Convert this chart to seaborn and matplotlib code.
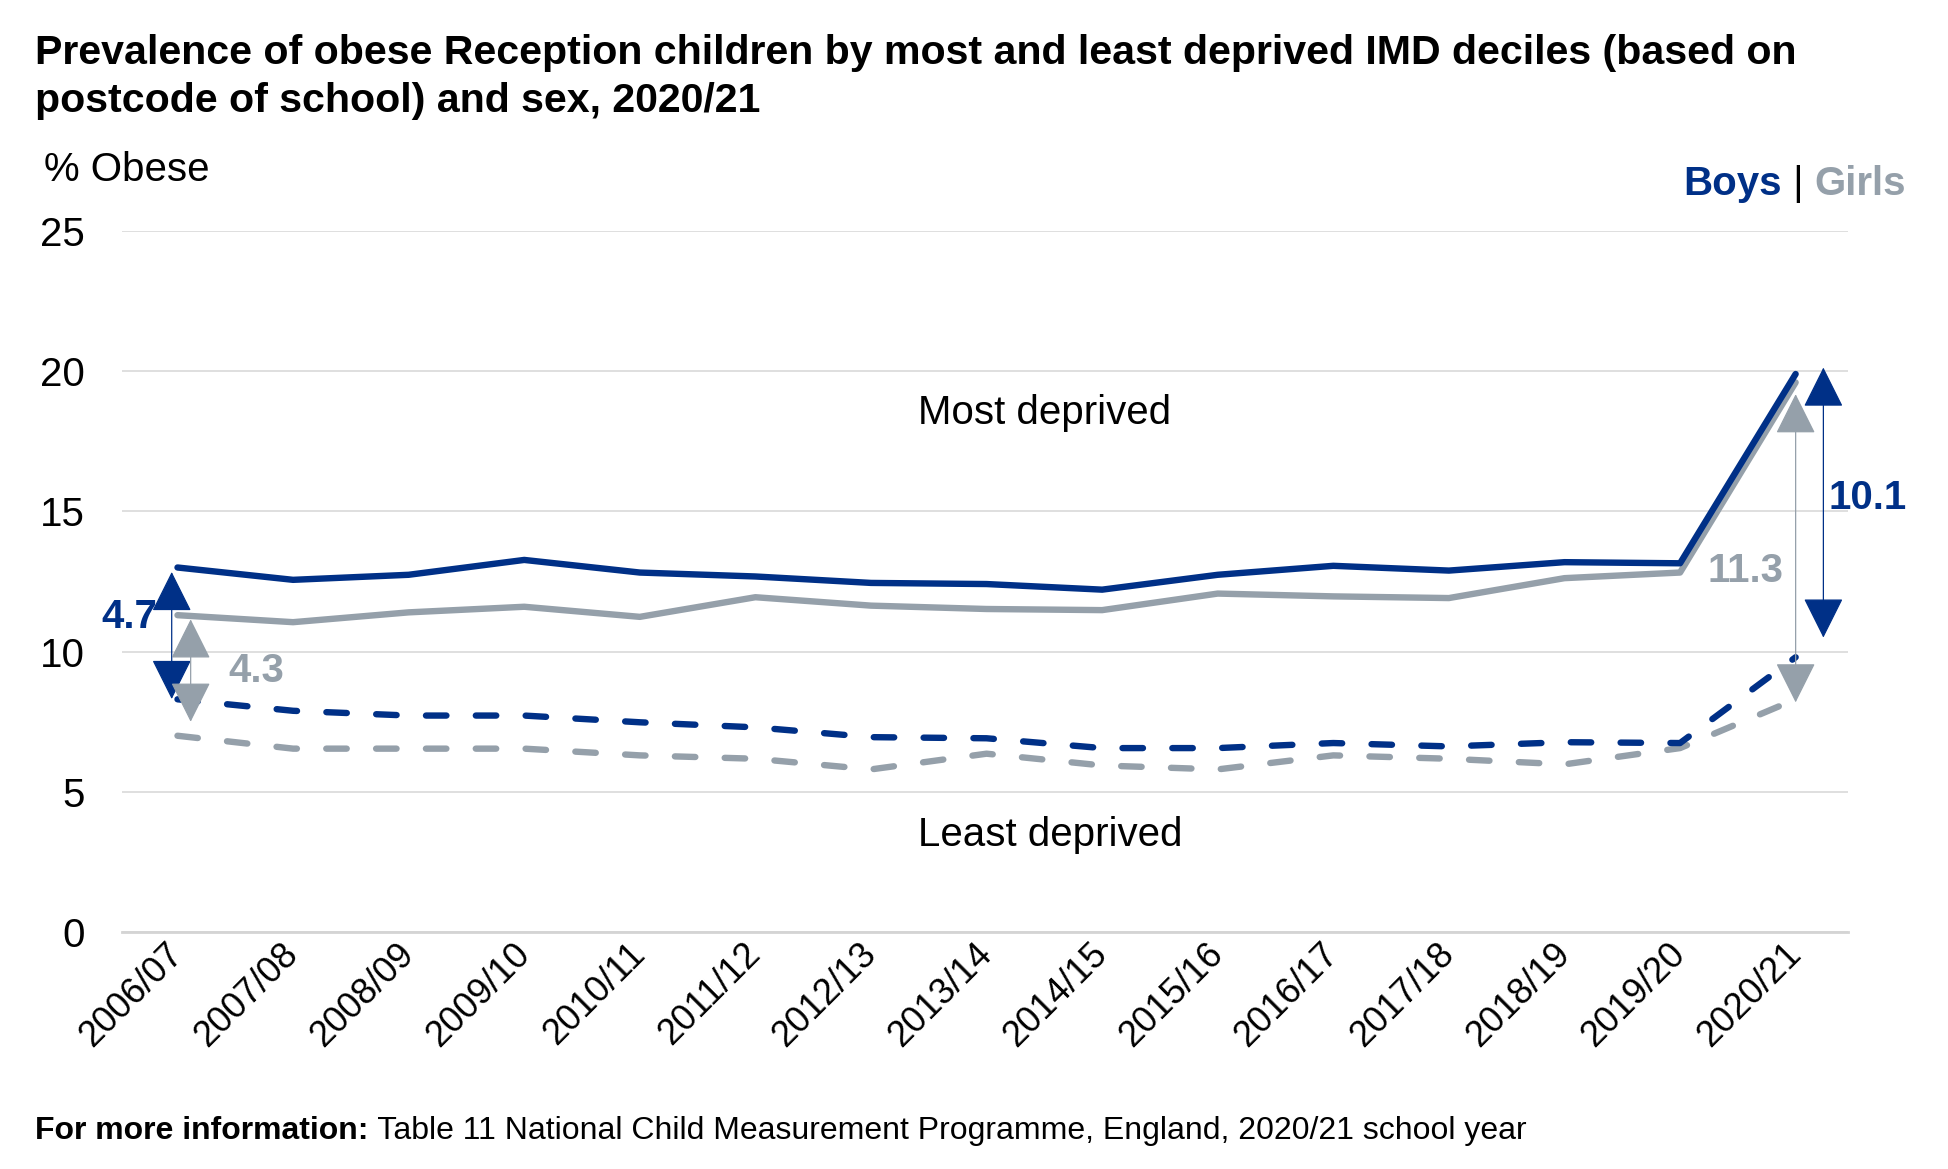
import numpy as np
import pandas as pd
import matplotlib
matplotlib.use('agg')
import matplotlib.pyplot as plt
import seaborn as sns

sns.set_style('white')
plt.rcParams['font.family'] = ['Liberation Sans', 'DejaVu Sans']
plt.rcParams['text.color'] = 'black'
plt.rcParams['xtick.color'] = 'black'
plt.rcParams['ytick.color'] = 'black'

NAVY = '#003087'
GREY = '#95a0aa'

years = ['2006/07', '2007/08', '2008/09', '2009/10', '2010/11', '2011/12', '2012/13',
         '2013/14', '2014/15', '2015/16', '2016/17', '2017/18', '2018/19', '2019/20', '2020/21']

boys_most = [13.0, 12.56, 12.74, 13.27, 12.82, 12.68, 12.45, 12.41, 12.21, 12.74,
             13.06, 12.89, 13.19, 13.15, 19.9]
girls_most = [11.3, 11.05, 11.4, 11.6, 11.24, 11.94, 11.64, 11.52, 11.48, 12.07,
              11.97, 11.91, 12.62, 12.82, 19.6]
boys_least = [8.3, 7.89, 7.72, 7.72, 7.48, 7.3, 6.95, 6.91, 6.56, 6.56,
              6.74, 6.62, 6.77, 6.74, 9.8]
girls_least = [7.0, 6.54, 6.54, 6.54, 6.3, 6.18, 5.8, 6.36, 5.94, 5.8,
               6.3, 6.18, 5.98, 6.56, 8.3]

gaps = {'boys_start': 4.7, 'girls_start': 4.3, 'boys_end': 10.1, 'girls_end': 11.3}

rows = []
for sex, dep, vals in [('Girls', 'Most', girls_most), ('Girls', 'Least', girls_least),
                       ('Boys', 'Most', boys_most), ('Boys', 'Least', boys_least)]:
    for y, v in zip(years, vals):
        rows.append({'year': y, 'value': v, 'sex': sex, 'dep': dep})
df = pd.DataFrame(rows)

fig = plt.figure(figsize=(19.49, 11.69), dpi=100)
ax = fig.add_axes([0.0626, 0.2027, 0.8854, 0.5997])

for sex, col in [('Girls', GREY), ('Boys', NAVY)]:
    for dep in ['Most', 'Least']:
        d = df[(df.sex == sex) & (df.dep == dep)]
        sns.lineplot(data=d, x='year', y='value', ax=ax, color=col, lw=4.6,
                     sort=False, legend=False)
        line = ax.lines[-1]
        line.set_solid_capstyle('round')
        if dep == 'Least':
            line.set_dashes((3.2, 4.6))
            line.set_dash_capstyle('round')

ax.set_xlim(-0.48, 14.45)
ax.set_ylim(0, 25)
ax.set_yticks([0, 5, 10, 15, 20, 25])
ax.grid(axis='y', color='#d9d9d9', lw=1.2)
ax.set_axisbelow(True)
for s in ['top', 'right', 'left']:
    ax.spines[s].set_visible(False)
ax.spines['bottom'].set_color('#d4d4d4')
ax.spines['bottom'].set_linewidth(2)
ax.set_xlabel('')
ax.set_ylabel('')
ax.tick_params(axis='y', length=0, pad=27, labelsize=29)
ax.tick_params(axis='x', length=0, pad=12, labelsize=26)
plt.setp(ax.get_xticklabels(), rotation=45, ha='right', va='center', rotation_mode='anchor')

# arrows showing the gap
def gap_arrow(x, y0, y1, col):
    ax.annotate('', xy=(x, y1), xytext=(x, y0), annotation_clip=False,
                arrowprops=dict(arrowstyle='<|-|>,head_length=26,head_width=13',
                                mutation_scale=1, color=col, lw=0.9,
                                shrinkA=0, shrinkB=0))

gap_arrow(-0.05, 8.31, 12.84, NAVY)
gap_arrow(0.114, 7.5, 11.15, GREY)
gap_arrow(14.24, 10.5, 20.13, NAVY)
gap_arrow(14.0, 8.19, 19.18, GREY)

ax.text(-0.42, 11.25, f"{gaps['boys_start']:.1f}", color=NAVY, fontsize=29,
        fontweight='bold', ha='center', va='center')
ax.text(0.68, 9.3, f"{gaps['girls_start']:.1f}", color=GREY, fontsize=29,
        fontweight='bold', ha='center', va='center')
ax.text(14.62, 15.49, f"{gaps['boys_end']:.1f}", color=NAVY, fontsize=29,
        fontweight='bold', ha='center', va='center', clip_on=False)
ax.text(13.57, 12.88, f"{gaps['girls_end']:.1f}", color=GREY, fontsize=29,
        fontweight='bold', ha='center', va='center')

ax.text(7.5, 18.5, 'Most deprived', fontsize=29, ha='center', va='center')
ax.text(7.55, 3.46, 'Least deprived', fontsize=29, ha='center', va='center')

fig.text(0.018, 0.971, 'Prevalence of obese Reception children by most and least deprived IMD deciles (based on\n'
         'postcode of school) and sex, 2020/21', fontsize=29.6, fontweight='bold',
         ha='left', va='top', linespacing=1.32)
fig.text(0.0226, 0.8546, '% Obese', fontsize=29, ha='left', va='center')

t_g = fig.text(0.978, 0.843, 'Girls', fontsize=29, fontweight='bold', color=GREY,
               ha='right', va='center')
t_b = ax.annotate(' | ', xy=(0, 0), xycoords=t_g, fontsize=29, ha='right', va='bottom')
ax.annotate('Boys', xy=(0, 0), xycoords=t_b, fontsize=29, fontweight='bold', color=NAVY,
            ha='right', va='bottom')

t_f = fig.text(0.018, 0.0325, 'For more information:', fontsize=23.0, fontweight='bold',
               ha='left', va='center')
ax.annotate(' Table 11 National Child Measurement Programme, England, 2020/21 school year',
            xy=(1, 0), xycoords=t_f, fontsize=23.0, ha='left', va='bottom')

fig.savefig('out.png', dpi=100)
